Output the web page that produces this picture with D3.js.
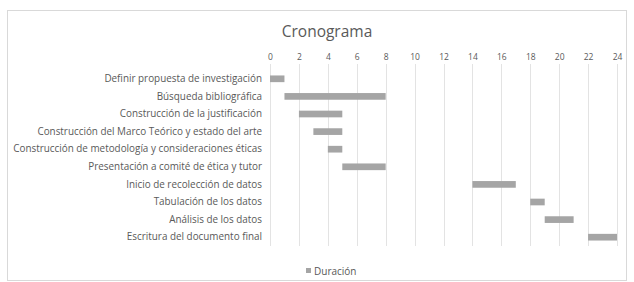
<!DOCTYPE html>
<html>
<head>
<meta charset="utf-8">
<script src="https://d3js.org/d3.v7.min.js"></script>
<style>
  body { margin: 0; background: #fff; }
  text { font-family: "Open Sans", sans-serif; fill: #595959; }
</style>
</head>
<body>
<script>
// tareas del cronograma
var tasks = [
  "Definir propuesta de investigación",
  "Búsqueda bibliográfica",
  "Construcción de la justificación",
  "Construcción del Marco Teórico y estado del arte",
  "Construcción de metodología y consideraciones éticas",
  "Presentación a comité de ética y tutor",
  "Inicio de recolección de datos",
  "Tabulación de los datos",
  "Análisis de los datos",
  "Escritura del documento final"
];
var inicio   = [0, 1, 2, 3, 4, 5, 14, 18, 19, 22];
var duracion = [1, 7, 3, 2, 1, 3, 3, 1, 2, 2];
var ticks    = [0, 2, 4, 6, 8, 10, 12, 14, 16, 18, 20, 22, 24];

var W = 634, H = 282;
var margin = { top: 70, right: 17, bottom: 36, left: 270 };

var svg = d3.select("body").append("svg")
  .attr("width", W)
  .attr("height", H);

// marco del grafico
svg.append("rect")
  .attr("x", 7.5).attr("y", 10.5)
  .attr("width", 619).attr("height", 270)
  .attr("fill", "#fff")
  .attr("stroke", "#d9d9d9");

var x = d3.scaleLinear().domain([0, 24]).range([margin.left, W - margin.right]);
var y = d3.scaleBand().domain(tasks).range([margin.top, H - margin.bottom]).paddingInner(0.62).paddingOuter(0.31);

// lineas de cuadricula
svg.append("g").selectAll("line")
  .data(ticks)
  .join("line")
    .attr("x1", d => Math.round(x(d)) + 0.5)
    .attr("x2", d => Math.round(x(d)) + 0.5)
    .attr("y1", margin.top - 6)
    .attr("y2", H - margin.bottom)
    .attr("stroke", "#e3e3e3");

// eje superior
var xAxis = svg.append("g")
  .attr("transform", "translate(0," + (margin.top - 10) + ")")
  .call(d3.axisTop(x).tickValues(ticks).tickSize(0).tickPadding(0));
xAxis.select(".domain").remove();
xAxis.selectAll("text")
  .style("font-size", "8.5px")
  .attr("fill", "#595959");

// eje de categorias
var yAxis = svg.append("g")
  .attr("transform", "translate(" + margin.left + ",0)")
  .call(d3.axisLeft(y).tickSize(0).tickPadding(8));
yAxis.select(".domain").remove();
yAxis.selectAll("text")
  .style("font-size", "9.9px")
  .attr("fill", "#595959");

// barras de duracion
svg.append("g").selectAll("rect")
  .data(tasks)
  .join("rect")
    .attr("x", (d, i) => x(inicio[i]))
    .attr("y", d => y(d))
    .attr("width", (d, i) => x(inicio[i] + duracion[i]) - x(inicio[i]))
    .attr("height", y.bandwidth())
    .attr("fill", "#a5a5a5");

// titulo
svg.append("text")
  .attr("x", 327)
  .attr("y", 37)
  .attr("text-anchor", "middle")
  .style("font-size", "15.5px")
  .text("Cronograma");

// leyenda
svg.append("rect")
  .attr("x", 306).attr("y", 268)
  .attr("width", 5).attr("height", 5)
  .attr("fill", "#a5a5a5");
svg.append("text")
  .attr("x", 314)
  .attr("y", 274.5)
  .style("font-size", "10px")
  .text("Duración");
</script>
</body>
</html>
